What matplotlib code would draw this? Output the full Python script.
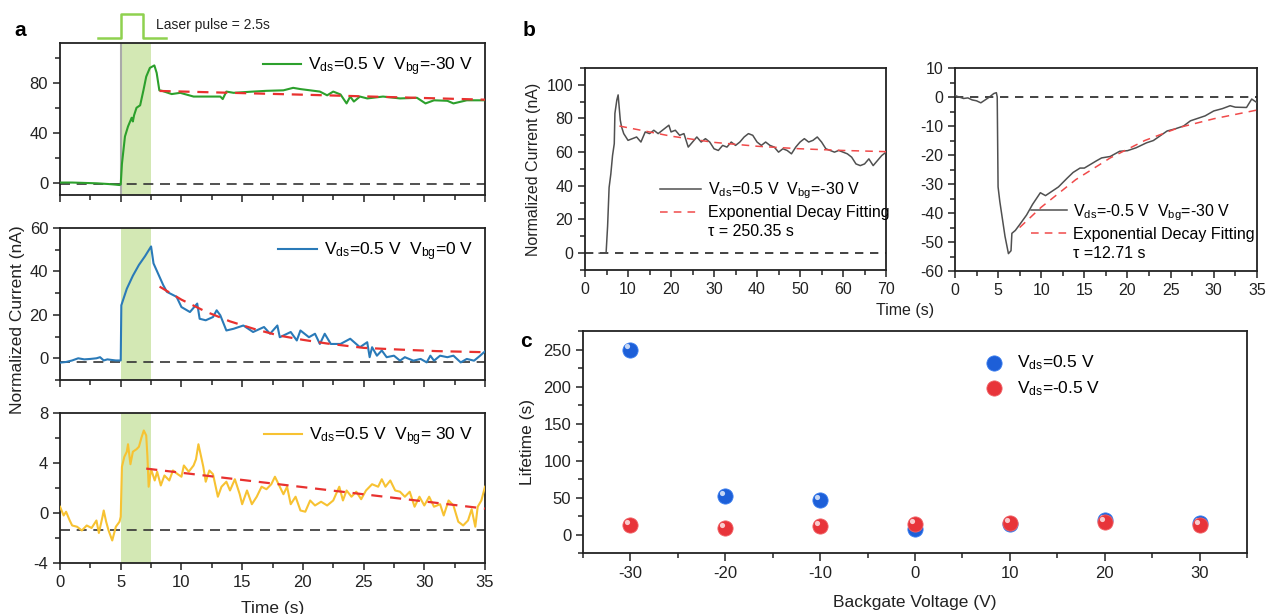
import matplotlib
matplotlib.use('Agg')
import matplotlib.pyplot as plt
from matplotlib.ticker import MultipleLocator
from matplotlib.lines import Line2D
from matplotlib.transforms import ScaledTranslation, blended_transform_factory

plt.rcParams['font.family'] = ['Liberation Sans', 'DejaVu Sans']
plt.rcParams['mathtext.fontset'] = 'custom'
plt.rcParams['mathtext.rm'] = 'Liberation Sans'
plt.rcParams['mathtext.it'] = 'Liberation Sans:italic'
plt.rcParams['axes.linewidth'] = 1.3
plt.rcParams['axes.edgecolor'] = '#222222'
plt.rcParams['axes.unicode_minus'] = False

# ---- panel a, top: Vbg = -30 V
t_a1 = [0, 1, 2, 3, 4, 4.5, 4.9, 5.0, 5.1, 5.35, 5.6, 5.9, 6.0, 6.1, 6.3, 6.6, 6.87, 7.1, 7.4, 7.77,
        7.96, 8.18, 8.4, 9.2, 9.9, 11.0, 12.0, 13.2, 13.4, 13.7, 14.3, 15.9, 17.0, 18.4, 19.2,
        19.8, 20.6, 21.4, 22.0, 22.5, 23.1, 23.6, 23.9, 24.2, 24.7, 25.3, 26.6, 28.0, 29.4, 30.1,
        30.8, 31.9, 32.4, 33.5, 35.0]
i_a1 = [0, 0, -0.3, -0.6, -1.2, -1.6, -2.0, -1.5, 15, 37, 45, 52, 49, 54, 60, 62, 74, 85, 92, 94,
        88, 74, 73.6, 71, 72, 69, 69, 69, 67, 73, 72, 73, 73.6, 74, 76,
        75, 74, 73, 70, 73, 70.7, 63.5, 69, 65, 69, 67.5, 69, 67.5, 68, 63.5,
        66, 65.6, 63.5, 66, 66]
fit_a1_t = [8.2, 20, 35]
fit_a1_i = [73.5, 70.5, 66.5]

# ---- panel a, middle: Vbg = 0 V
t_a2 = [0, 0.5, 1.0, 1.5, 2.0, 2.5, 3.0, 3.3, 3.6, 3.9, 4.3, 4.6, 5.0, 5.05, 5.5, 6.0, 6.5, 7.0, 7.5, 7.7,
        8.5, 8.8, 9.6, 10.0, 10.7, 11.3, 11.5, 12.0, 12.6, 12.9, 13.2, 13.7, 14.3, 15.1, 15.9,
        16.8, 17.3, 17.9, 18.1, 19.0, 19.5, 19.8, 20.5, 21.0, 21.4, 21.8, 22.3, 23.1, 23.9, 24.7,
        25.3, 25.5, 25.7, 26.1, 26.5, 26.9, 27.5, 28.0, 28.4, 29.1, 29.7, 30.2, 30.5, 30.8, 31.3,
        31.9, 32.4, 33.0, 33.5, 34.1, 34.6, 35.0]
i_a2 = [-2, -1.7, -1.0, 0, -0.5, -0.3, 0, 0.5, -1.0, -0.5, -0.8, -1.0, -1.0, 24.4, 32, 38, 43, 47, 51.5, 43.7,
        33.7, 30.6, 28.3, 23.6, 21.3, 25.2, 18.2, 17.5, 19, 22.1, 19.8, 12.8, 13.6, 15.1, 12.1,
        14.4, 11.3, 15.1, 9.7, 12.1, 8.2, 12.8, 9.7, 11.3, 6.6, 11.3, 6.6, 6.6, 9, 5.1,
        7.4, 0.5, 5.1, 1.2, 3.6, 0.5, 1.2, -1.1, 0.5, -1.1, -0.3, -1.9, 1.2, -1.1, 1.2,
        0.5, 1.2, -1.9, -0.3, -1.1, 1.2, 3.2]
fit_a2_t = [8.2, 10, 12, 14, 16, 18, 20, 22, 25, 28, 31, 35]
fit_a2_i = [33, 27, 21.5, 17, 13.5, 10.5, 8.5, 6.8, 4.8, 4.0, 3.3, 2.8]

# ---- panel a, bottom: Vbg = 30 V
t_a3 = [0, 0.3, 0.5, 0.8, 1, 1.4, 1.8, 2.2, 2.6, 3,
        3.2, 3.5, 3.6, 3.8, 4, 4.3, 4.6, 4.9, 5, 5.1,
        5.3, 5.5, 5.6, 5.8, 6, 6.3, 6.5, 6.7, 6.9, 7.1,
        7.2, 7.3, 7.5, 7.8, 8, 8.3, 8.6, 9, 9.3, 9.7,
        10, 10.2, 10.6, 11, 11.2, 11.4, 11.6, 11.8, 12, 12.3,
        12.6, 13, 13.3, 13.7, 14, 14.4, 14.8, 15, 15.4, 15.8,
        16.2, 16.6, 17, 17.4, 17.7, 18, 18.4, 18.7, 19, 19.4,
        19.8, 20.2, 20.6, 21, 21.5, 22, 22.5, 23, 23.3, 23.6,
        24, 24.4, 24.8, 25.2, 25.7, 26.2, 26.5, 26.8, 27.2, 27.6,
        28, 28.4, 28.8, 29.2, 29.6, 30, 30.4, 30.8, 31.3, 31.6,
        32, 32.4, 32.8, 33.2, 33.6, 33.9, 34.2, 34.4, 34.7, 35]
i_a3 = [0.5, -0.2, 0.1, -0.6, -1, -1.1, -1.4, -1, -1.2, -0.6,
        -1.6, -0.3, 0.2, -0.7, -1.4, -2.2, -1.1, -0.7, -0.3, 3.7,
        4.5, 4.9, 5.5, 3.9, 4.9, 5.1, 5.3, 6, 6.6, 6.2,
        4.5, 2.1, 3.5, 2.6, 3.3, 2.2, 3.0, 2.6, 3.4, 3.1,
        2.9, 3.8, 3.3, 3.8, 4.3, 5.5, 4.6, 3.7, 2.5, 3.4,
        3.1, 1.3, 2.1, 2.5, 1.8, 2.7, 1.5, 0.7, 1.8, 0.7,
        1.3, 2.1, 1.9, 2.3, 2.9, 2.3, 1.5, 2.1, 0.7, 1.3,
        0.2, 0.1, 1.0, 0.6, 0.9, 0.6, 1.0, 2.1, 1.0, 1.8,
        1.3, 1.7, 1.1, 1.8, 2.3, 2.1, 2.7, 2.1, 2.6, 1.8,
        1.7, 1.3, 1.7, 0.5, 1.3, 0.6, 1.3, 0.5, 0.7, -0.2,
        1.0, 0.6, -0.7, -1.0, -0.6, 0.3, -1.1, 0.5, 1.0, 2.1]
fit_a3_t = [7.1, 35]
fit_a3_i = [3.55, 0.35]

baseline_a = [-1.3, -1.5, -1.4]
pulse_on, pulse_off = 5.0, 7.5
pulse_t = [3.1, 5.0, 5.0, 6.8, 6.8, 8.7]
pulse_level = [1.03, 1.03, 1.19, 1.19, 1.03, 1.03]

# ---- panel b
t_b1 = [3.3, 4.9, 5.25, 5.6, 6.0, 6.4, 6.8, 6.95, 7.4, 7.7, 8.2, 8.5, 9, 10, 11, 12, 13, 14, 15, 16,
        17, 18, 19, 19.5, 20, 21, 22, 23, 24, 25, 26, 27, 28, 29, 30, 31, 32, 33, 34, 35,
        36, 37, 38, 39, 40, 41, 42, 43, 44, 45, 46, 47, 48, 49, 50, 51, 52, 53, 54, 55,
        56, 57, 58, 59, 60, 61, 62, 63, 64, 65, 66, 67, 68, 69, 70]
i_b1 = [0, 0, 16, 39, 47, 58, 65, 83, 91, 94, 79, 75, 71, 67, 68, 69, 66, 72, 71, 73,
        71, 73, 75, 76, 72, 73, 70, 71, 63, 66, 69, 66, 68, 66, 62, 61, 64, 63, 66, 64,
        66, 69, 71, 70, 66, 64, 66, 64, 63, 60, 62, 61, 59, 63, 66, 68, 66, 67, 69, 66,
        62, 61, 60, 61, 60, 59, 57, 53, 52, 53, 56, 52, 55, 58, 60]
fit_b1_t = [8, 20, 30, 40, 50, 60, 70]
fit_b1_i = [75.5, 69.5, 65.8, 63.5, 62, 61, 60.3]

t_b2 = [0, 0.5, 1, 1.5, 2, 2.5, 3, 3.5, 4, 4.5,
        4.8, 4.9, 5.0, 5.2, 5.5, 5.8, 6.2, 6.5, 6.6, 7,
        7.5, 8.3, 9, 9.9, 10.5, 11, 12, 13, 13.7, 14.5,
        15, 16.4, 17, 18, 19.1, 20, 21, 22.2, 23, 24.6,
        25.5, 26.5, 27.3, 28, 29, 30, 31, 31.9, 32.5, 33.8,
        34.4, 35]
i_b2 = [0.5, 0, -0.5, -0.3, -1, -1.3, -2, -1, 0, 1.2,
        1.5, 0, -31, -36, -42, -48, -54, -53, -47, -46,
        -44, -40.7, -37, -33, -34, -33, -31, -28, -26, -24.5,
        -24.5, -22, -21, -20.5, -18.7, -18.5, -17.5, -15.8, -15, -11.7,
        -11, -10, -8.2, -7.5, -6.5, -4.8, -4, -3, -3.5, -3.6,
        -0.7, -1.9]
fit_b2_t = [7.5, 10, 14, 18, 22, 26, 30, 35]
fit_b2_i = [-45, -38, -28.5, -21, -15, -10.5, -7.5, -4.5]

# ---- panel c
vbg = [-30, -20, -10, 0, 10, 20, 30]
tau_pos = [250, 52, 47, 8, 14, 19, 15]
tau_neg = [13, 9, 11, 14, 15, 17, 13]

RED = '#e8312f'
GREEN_FILL = '#d3e8b4'


def style(ax, xmaj, xmin, ymaj, ymin, fs=11.5):
    ax.xaxis.set_major_locator(MultipleLocator(xmaj))
    ax.xaxis.set_minor_locator(MultipleLocator(xmin))
    ax.yaxis.set_major_locator(MultipleLocator(ymaj))
    ax.yaxis.set_minor_locator(MultipleLocator(ymin))
    ax.tick_params(which='both', direction='out', top=False, right=False,
                   labelsize=fs, labelcolor='#222222', color='#222222')
    ax.tick_params(which='major', length=5, width=1.1)
    ax.tick_params(which='minor', length=3.5, width=1.1)


fig = plt.figure(figsize=(12.66, 6.14), dpi=100)

ax1 = fig.add_axes([0.0474, 0.6824, 0.3357, 0.2476])
ax2 = fig.add_axes([0.0474, 0.3811, 0.3357, 0.2476])
ax3 = fig.add_axes([0.0474, 0.0831, 0.3357, 0.2443])

a_sets = [
    (ax1, t_a1, i_a1, fit_a1_t, fit_a1_i, '#2ca02c', '-30 V', (-10, 112), 40, 20),
    (ax2, t_a2, i_a2, fit_a2_t, fit_a2_i, '#2a7ab8', '0 V', (-10, 60), 20, 10),
    (ax3, t_a3, i_a3, fit_a3_t, fit_a3_i, '#f7c232', ' 30 V', (-4, 8), 4, 2),
]
for k, (ax, t, y, ft, fy, col, vb, ylim, ymaj, ymin) in enumerate(a_sets):
    ax.axvspan(pulse_on, pulse_off, color=GREEN_FILL, lw=0, zorder=0)
    ax.axhline(baseline_a[k], color='#333333', lw=1.2, ls=(0, (6, 4)), zorder=1)
    ax.plot(t, y, color=col, lw=1.5, zorder=3,
            label=r'V$_{\mathrm{ds}}$=0.5 V  V$_{\mathrm{bg}}$=' + vb)
    ax.plot(ft, fy, color=RED, lw=1.6, ls=(0, (5, 3.5)), zorder=4)
    ax.set_xlim(0, 35)
    ax.set_ylim(*ylim)
    style(ax, 5, 2.5, ymaj, ymin, fs=12)
    leg = ax.legend(loc='upper right', frameon=False, fontsize=12.5, handlelength=2.2,
                    handletextpad=0.4, borderaxespad=0.3)
    if k < 2:
        ax.tick_params(labelbottom=False)

ax1.axvline(pulse_on, color='#aaaaaa', lw=1.5, zorder=2)
# laser pulse schematic above the top panel
trans = blended_transform_factory(ax1.transData, ax1.transAxes)
ax1.plot(pulse_t, pulse_level, color='#8fd14f', lw=1.8, transform=trans, clip_on=False)
ax1.text(7.9, 1.12, 'Laser pulse = 2.5s', transform=trans, fontsize=10, va='center', color='#222222')

ax3.set_xlabel('Time (s)', fontsize=12.5, color='#222222', labelpad=8)
fig.text(0.014, 0.48, 'Normalized Current (nA)', rotation=90, fontsize=12.5,
         va='center', ha='center', color='#222222')

# panel b
bx1 = fig.add_axes([0.4621, 0.5603, 0.2378, 0.329])
bx2 = fig.add_axes([0.7543, 0.5586, 0.2385, 0.3306])

bx1.axhline(0, color='#222222', lw=1.2, ls=(0, (5, 4)), zorder=1)
bx1.plot(t_b1, i_b1, color='#505050', lw=1.1, zorder=3,
         label=r'V$_{\mathrm{ds}}$=0.5 V  V$_{\mathrm{bg}}$=-30 V')
bx1.plot(fit_b1_t, fit_b1_i, color='#f04a4a', lw=1.1, ls=(0, (5, 4)), zorder=4,
         label='Exponential Decay Fitting')
bx1.set_xlim(0, 70)
bx1.set_ylim(-10, 110)
style(bx1, 10, 5, 20, 10, fs=11.5)
bx1.set_ylabel('Normalized Current (nA)', fontsize=11.5, color='#222222', labelpad=4)
h = bx1.get_legend_handles_labels()
bx1.legend(h[0] + [Line2D([], [], alpha=0)], h[1] + ['τ = 250.35 s'],
           loc='lower left', bbox_to_anchor=(0.2, 0.08), frameon=False, fontsize=11.5,
           handlelength=2.6, handletextpad=0.4, labelspacing=0.25)

bx2.axhline(0, color='#222222', lw=1.2, ls=(0, (5, 4)), zorder=1)
bx2.plot(t_b2, i_b2, color='#505050', lw=1.1, zorder=3,
         label=r'V$_{\mathrm{ds}}$=-0.5 V  V$_{\mathrm{bg}}$=-30 V')
bx2.plot(fit_b2_t, fit_b2_i, color='#f04a4a', lw=1.1, ls=(0, (5, 4)), zorder=4,
         label='Exponential Decay Fitting')
bx2.set_xlim(0, 35)
bx2.set_ylim(-60, 10)
style(bx2, 5, 2.5, 10, 5, fs=11.5)
h = bx2.get_legend_handles_labels()
bx2.legend(h[0] + [Line2D([], [], alpha=0)], h[1] + ['τ =12.71 s'],
           loc='lower right', bbox_to_anchor=(1.04, -0.02), frameon=False, fontsize=11.5,
           handlelength=2.2, handletextpad=0.4, labelspacing=0.25)
fig.text(0.715, 0.495, 'Time (s)', fontsize=11.5, ha='center', va='center', color='#222222')

# panel c
cx = fig.add_axes([0.4605, 0.0993, 0.5245, 0.3616])
hl = cx.transData + ScaledTranslation(-2.2 / 72, 2.2 / 72, fig.dpi_scale_trans)
sp = cx.scatter(vbg, tau_pos, s=120, color='#1d5fd8', edgecolor='#3c7ff0', lw=0.6, zorder=3,
                label=r'V$_{\mathrm{ds}}$=0.5 V')
sn = cx.scatter(vbg, tau_neg, s=120, color='#e8343a', edgecolor='#f06468', lw=0.6, zorder=4,
                label=r'V$_{\mathrm{ds}}$=-0.5 V')
cx.scatter(vbg, tau_pos, s=14, color='white', alpha=0.75, lw=0, zorder=3.5, transform=hl)
cx.scatter(vbg, tau_neg, s=14, color='white', alpha=0.75, lw=0, zorder=4.5, transform=hl)
cx.set_xlim(-35, 35)
cx.set_ylim(-25, 275)
style(cx, 10, 5, 50, 25, fs=12)
cx.tick_params(axis='x', which='major', length=6)
cx.set_xlabel('Backgate Voltage (V)', fontsize=12.5, color='#222222', labelpad=10)
cx.set_ylabel('Lifetime (s)', fontsize=12.5, color='#222222', labelpad=6)
cx.legend(loc='upper left', bbox_to_anchor=(0.57, 0.97), frameon=False, fontsize=12.5,
          handletextpad=0.3, labelspacing=0.4, scatterpoints=1)

fig.text(0.011, 0.95, 'a', fontsize=15, fontweight='bold', va='center')
fig.text(0.413, 0.95, 'b', fontsize=15, fontweight='bold', va='center')
fig.text(0.411, 0.443, 'c', fontsize=15, fontweight='bold', va='center')

fig.savefig('out.png', dpi=100)
